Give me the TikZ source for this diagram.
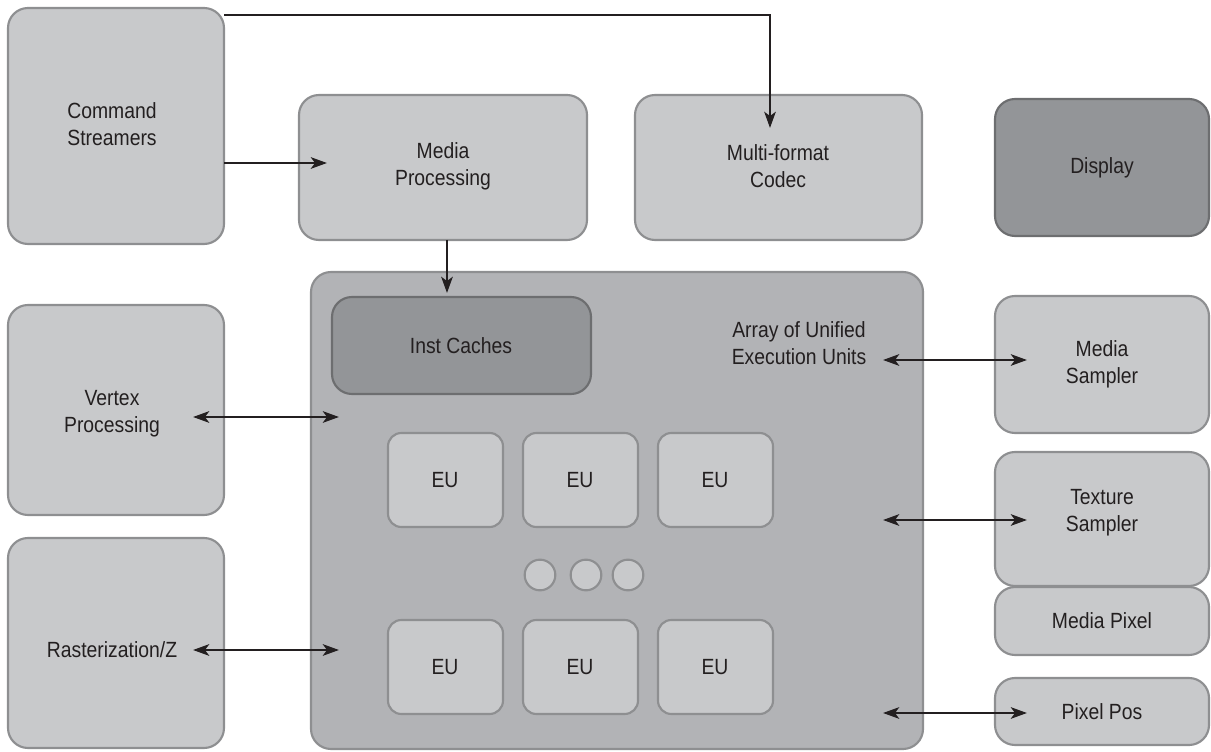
\documentclass[tikz,border=0pt]{standalone}
\usepackage{fontspec}
\setmainfont{Liberation Sans}[FakeStretch=0.88]
\usetikzlibrary{arrows.meta,fit}
\definecolor{boxfill}{HTML}{C8C9CB}
\definecolor{boxline}{HTML}{8E8F91}
\definecolor{bigfill}{HTML}{B2B3B6}
\definecolor{darkfill}{HTML}{939598}
\definecolor{darkline}{HTML}{6D6E70}
\definecolor{txt}{HTML}{231F20}
\tikzset{
  blk/.style={draw=boxline, fill=boxfill, line width=1.6pt, rounded corners=15pt, inner sep=0pt, text=txt, align=center},
  bigblk/.style={blk, fill=bigfill},
  darkblk/.style={blk, fill=darkfill, draw=darkline},
  eublk/.style={blk, rounded corners=10pt},
  dot/.style={circle, draw=boxline, fill=boxfill, line width=1.6pt, minimum size=23pt, inner sep=0pt},
  lbl/.style={text=txt, align=center, font=\fontsize{16.5}{20}\selectfont},
  arr/.style={line width=2.2pt, draw=txt, -{Stealth[length=12pt,width=8.5pt,inset=3pt]}},
  darr/.style={line width=2.2pt, draw=txt, {Stealth[length=12pt,width=8.5pt,inset=3pt]}-{Stealth[length=12pt,width=8.5pt,inset=3pt]}}
}
\begin{document}
\begin{tikzpicture}[x=0.75pt,y=-0.75pt]
\useasboundingbox (0,0) rectangle (1211,752);
% boxes
\node[blk, fit={(8,8) (224,244)}] (cs) {};
\node[lbl] at (112,124) {Command\\Streamers};
\node[blk, fit={(299,95) (587,240)}] (mp) {};
\node[lbl] at (443,166) {Media\\Processing};
\node[blk, fit={(635,95) (922,240)}] (codec) {};
\node[lbl] at (778,166) {Multi-format\\Codec};
\node[darkblk, fit={(995,99) (1209,236)}] (disp) {};
\node[lbl] at (1102,168) {Display};
\node[bigblk, fit={(311,272) (923,749)}] (arr) {};
\node[lbl] at (799,343) {Array of Unified\\Execution Units};
\node[darkblk, fit={(332,297) (591,394)}] (inst) {};
\node[lbl] at (461,346) {Inst Caches};
\node[blk, fit={(8,305) (224,515)}] (vp) {};
\node[lbl] at (112,414) {Vertex\\Processing};
\node[blk, fit={(8,538) (224,748)}] (rz) {};
\node[lbl] at (112,650) {Rasterization/Z};
\node[blk, fit={(995,296) (1209,433)}] (ms) {};
\node[lbl] at (1102,364) {Media\\Sampler};
\node[blk, fit={(995,452) (1209,586)}] (ts) {};
\node[lbl] at (1102,513) {Texture\\Sampler};
\node[blk, fit={(995,587) (1209,655)}] (mpx) {};
\node[lbl] at (1102,621) {Media Pixel};
\node[blk, fit={(995,678) (1209,745)}] (pp) {};
\node[lbl] at (1102,712) {Pixel Pos};
% EUs
\node[eublk, fit={(388,433) (503,527)}] (eu1) {};
\node[lbl] at (445,480) {EU};
\node[eublk, fit={(523,433) (638,527)}] (eu2) {};
\node[lbl] at (580,480) {EU};
\node[eublk, fit={(658,433) (773,527)}] (eu3) {};
\node[lbl] at (715,480) {EU};
\node[eublk, fit={(388,620) (503,714)}] (eu4) {};
\node[lbl] at (445,667) {EU};
\node[eublk, fit={(523,620) (638,714)}] (eu5) {};
\node[lbl] at (580,667) {EU};
\node[eublk, fit={(658,620) (773,714)}] (eu6) {};
\node[lbl] at (715,667) {EU};
\node[dot] (d1) at (540,575) {};
\node[dot] (d2) at (586,575) {};
\node[dot] (d3) at (628,575) {};
% connector ends
\coordinate (csTop) at (224,15);
\coordinate (codecIn) at (770,128);
\coordinate (csMid) at (224,163);
\coordinate (mpIn) at (327,163);
\coordinate (mpOut) at (447,240);
\coordinate (instIn) at (447,293);
\coordinate (vpIn) at (193,417);
\coordinate (arrV) at (339,417);
\coordinate (rzIn) at (193,650);
\coordinate (arrR) at (339,650);
\coordinate (arrM) at (883,360);
\coordinate (msIn) at (1027,360);
\coordinate (arrT) at (883,520);
\coordinate (tsIn) at (1027,520);
\coordinate (arrP) at (883,713);
\coordinate (ppIn) at (1027,713);
% connectors
\draw[arr] (csTop) -| (codecIn);
\draw[arr] (csMid) -- (mpIn);
\draw[arr] (mpOut) -- (instIn);
\draw[darr] (vpIn) -- (arrV);
\draw[darr] (rzIn) -- (arrR);
\draw[darr] (arrM) -- (msIn);
\draw[darr] (arrT) -- (tsIn);
\draw[darr] (arrP) -- (ppIn);
\end{tikzpicture}
\end{document}
